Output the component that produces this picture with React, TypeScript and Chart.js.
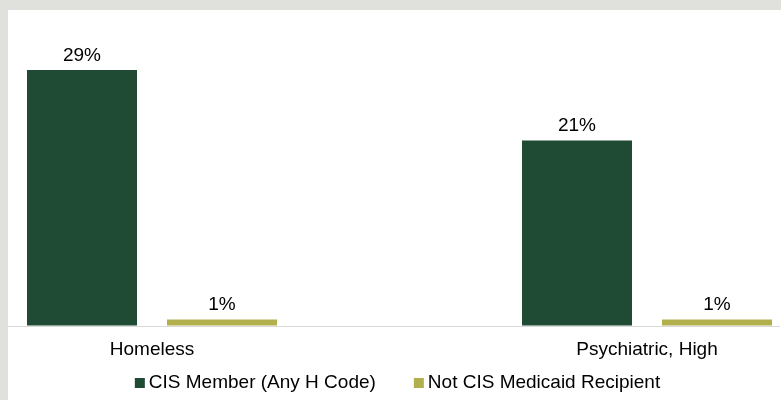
import React, { useEffect, useRef } from "react";
import { Chart, registerables } from "chart.js";

Chart.register(...registerables);

const categories = ["Homeless", "Psychiatric, High"];
const seriesNames = ["CIS Member (Any H Code)", "Not CIS Medicaid Recipient"];
const cisMember = [29, 21];
const notCisRecipient = [0.7, 0.7];
const seriesColors = ["#1f4b34", "#b2af4d"];
const yMax = 35;

const FONT = "'Liberation Sans', Arial, Helvetica, sans-serif";
const FONT_SIZE = 19;

const baselinePlugin = {
  id: "baseline",
  beforeDatasetsDraw(chart: any) {
    const y = Math.round(chart.scales.y.getPixelForValue(0)) + 0.5;
    const ctx = chart.ctx;
    ctx.save();
    ctx.strokeStyle = "#d9d9d9";
    ctx.lineWidth = 1;
    ctx.beginPath();
    ctx.moveTo(0, y);
    ctx.lineTo(chart.width - 1, y);
    ctx.stroke();
    ctx.restore();
  },
};

const valueLabelPlugin = {
  id: "valueLabels",
  afterDatasetsDraw(chart: any) {
    const ctx = chart.ctx;
    ctx.save();
    ctx.font = `${FONT_SIZE}px ${FONT}`;
    ctx.fillStyle = "#000";
    ctx.textAlign = "center";
    ctx.textBaseline = "alphabetic";
    chart.data.datasets.forEach((ds: any, di: number) => {
      const meta = chart.getDatasetMeta(di);
      meta.data.forEach((el: any, i: number) => {
        const v = ds.data[i];
        ctx.fillText(`${Math.round(v)}%`, el.x, el.y - 9);
      });
    });
    ctx.restore();
  },
};

const legendPlugin = {
  id: "customLegend",
  afterDraw(chart: any) {
    const ctx = chart.ctx;
    ctx.save();
    ctx.font = `${FONT_SIZE}px ${FONT}`;
    const box = 10;
    const gapBox = 4;
    const gapItem = 38;
    const items = chart.data.datasets.map((ds: any) => ({
      text: ds.label,
      color: ds.backgroundColor,
      w: ctx.measureText(ds.label).width,
    }));
    const total =
      items.reduce((s: number, it: any) => s + box + gapBox + it.w, 0) +
      gapItem * (items.length - 1);
    let x = (chart.width - total) / 2 + 3;
    const baseY = chart.height - 12;
    ctx.textAlign = "left";
    ctx.textBaseline = "alphabetic";
    items.forEach((it: any) => {
      ctx.fillStyle = it.color;
      ctx.fillRect(x, baseY - box, box, box);
      ctx.fillStyle = "#000";
      ctx.fillText(it.text, x + box + gapBox, baseY);
      x += box + gapBox + it.w + gapItem;
    });
    ctx.restore();
  },
};

export default function App() {
  const ref = useRef<HTMLCanvasElement>(null);
  useEffect(() => {
    const chart = new Chart(ref.current as HTMLCanvasElement, {
      type: "bar",
      data: {
        labels: categories,
        datasets: [
          {
            label: seriesNames[0],
            data: cisMember,
            backgroundColor: seriesColors[0],
            categoryPercentage: 0.5657,
            barPercentage: 0.7857,
            clip: false as any,
          },
          {
            label: seriesNames[1],
            data: notCisRecipient,
            backgroundColor: seriesColors[1],
            categoryPercentage: 0.5657,
            barPercentage: 0.7857,
            clip: false as any,
          },
        ],
      },
      options: {
        animation: false,
        responsive: true,
        maintainAspectRatio: false,
        layout: { padding: { top: 7, left: 144, right: 134, bottom: 25.6 } },
        plugins: {
          legend: { display: false },
          tooltip: { enabled: false },
        },
        scales: {
          x: {
            offset: false,
            grid: { display: false, drawTicks: false },
            border: { display: false },
            ticks: {
              color: "#000",
              font: { family: FONT, size: FONT_SIZE },
              padding: 13,
              maxRotation: 0,
              autoSkip: false,
            },
          },
          y: { display: false, min: 0, max: yMax },
        },
      },
      plugins: [baselinePlugin, valueLabelPlugin, legendPlugin],
    });
    return () => chart.destroy();
  }, []);

  return (
    <div
      style={{
        position: "absolute",
        left: 0,
        top: 0,
        width: 781,
        height: 400,
        background: "#e0e0dc",
      }}
    >
      <div
        style={{
          position: "absolute",
          left: 8,
          top: 10,
          width: 773,
          height: 390,
          background: "#ffffff",
        }}
      >
        <canvas ref={ref} />
      </div>
    </div>
  );
}
